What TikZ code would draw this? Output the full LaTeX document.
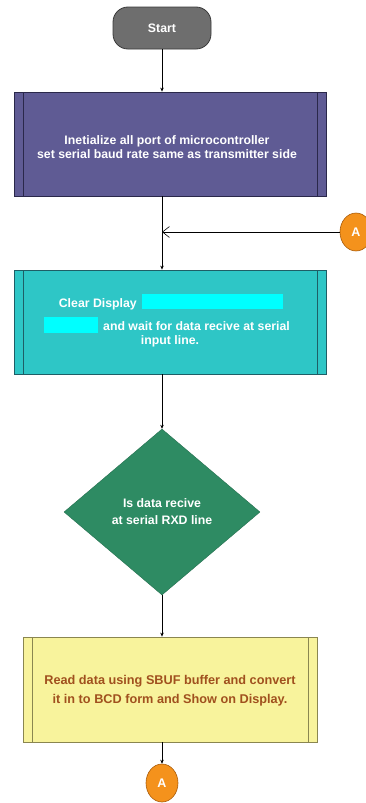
\documentclass[tikz,border=0pt]{standalone}
\usepackage{fontspec}
\setmainfont{Liberation Sans}
\usetikzlibrary{shapes.geometric,arrows.meta}
\definecolor{startfill}{HTML}{6E6E6E}
\definecolor{startdraw}{HTML}{3A3A3A}
\definecolor{purplefill}{HTML}{5F5B94}
\definecolor{purpledraw}{HTML}{2A284A}
\definecolor{tealfill}{HTML}{2EC6C6}
\definecolor{tealdraw}{HTML}{1E5E66}
\definecolor{hilite}{HTML}{00FFFF}
\definecolor{greenfill}{HTML}{2E8B63}
\definecolor{yellowfill}{HTML}{F8F39C}
\definecolor{yellowdraw}{HTML}{8A8650}
\definecolor{browntext}{HTML}{A0501E}
\definecolor{orangefill}{HTML}{F4921C}
\definecolor{orangedraw}{HTML}{A85A08}
\tikzset{
  predef/.style={rectangle, draw=#1, line width=0.8pt, inner sep=0pt,
    path picture={
      \draw[#1, line width=0.8pt] ([xshift=9pt]path picture bounding box.north west) -- ([xshift=9pt]path picture bounding box.south west);
      \draw[#1, line width=0.8pt] ([xshift=-9pt]path picture bounding box.north east) -- ([xshift=-9pt]path picture bounding box.south east);
    }},
  txt/.style={font=\bfseries\fontsize{12.3}{14}\selectfont, text=white, inner sep=0pt, align=center},
  flow/.style={line width=0.6pt, draw=black, -{Stealth[length=4pt,width=3.5pt]}},
  conn/.style={ellipse, fill=orangefill, draw=orangedraw, line width=0.6pt, minimum width=32pt, minimum height=38pt, inner sep=0pt, font=\bfseries\fontsize{12.5}{14}\selectfont, text=white},
}
\begin{document}
\begin{tikzpicture}[x=1pt,y=-1pt]
\useasboundingbox (0,0) rectangle (366,803);
% start
\node[rounded corners=15pt, fill=startfill, draw=startdraw, line width=0.8pt, minimum width=98pt, minimum height=42pt, inner sep=0pt] (start) at (162,28) {};
\node[txt] (starttxt) at (162,28) {Start};
% box 1
\node[predef=purpledraw, fill=purplefill, minimum width=312pt, minimum height=104pt] (b1) at (170,144) {};
\node[txt] (b1txt) at (167,147) {Inetialize all port of microcontroller\\set serial baud rate same as transmitter side};
% box 2
\node[predef=tealdraw, fill=tealfill, minimum width=312pt, minimum height=104pt] (b2) at (170,322) {};
\node[fill=hilite, minimum width=141pt, minimum height=15pt, inner sep=0pt] (h1) at (212.5,301.5) {};
\node[fill=hilite, minimum width=54pt, minimum height=16pt, inner sep=0pt] (h2) at (71,325) {};
\node[txt, anchor=east] (b2t1) at (137,304) {Clear Display};
\node[txt, anchor=west] (b2t2) at (103,326) {and wait for data recive at serial};
\node[txt] (b2t3) at (170,341) {input line.};
% diamond
\node[diamond, fill=greenfill, draw=greenfill!80!black, line width=0.4pt, minimum width=196pt, minimum height=166pt, inner sep=0pt] (d) at (162,512) {};
\node[txt, font=\bfseries\fontsize{12.3}{17}\selectfont] (dtxt) at (162,511.5) {Is data recive\\at serial RXD line};
% box 3
\node[predef=yellowdraw, fill=yellowfill, minimum width=294pt, minimum height=105pt] (b3) at (170,689.5) {};
\node[txt, text=browntext, font=\bfseries\fontsize{12.7}{19}\selectfont] (b3txt) at (170,690.5) {Read data using SBUF buffer and convert\\it in to BCD form and Show on Display.};
% connectors
\node[conn] (aright) at (356,232) {A};
\node[conn] (abot) at (162,783) {A};
\coordinate (j) at (162,232);
% edges
\draw[flow] (start.south) -- (start.south |- b1.north);
\draw[line width=0.6pt] (start.south |- b1.south) -- (j);
\draw[flow] (j) -- (j |- b2.north);
\draw[flow] (j |- b2.south) -- (d.north);
\draw[flow] (d.south) -- (d.south |- b3.north);
\draw[flow] (d.south |- b3.south) -- (abot.north);
\draw[line width=0.6pt, -{Straight Barb[length=7pt,width=11pt,line width=0.6pt]}] (aright.west) -- (j);
\end{tikzpicture}
\end{document}
